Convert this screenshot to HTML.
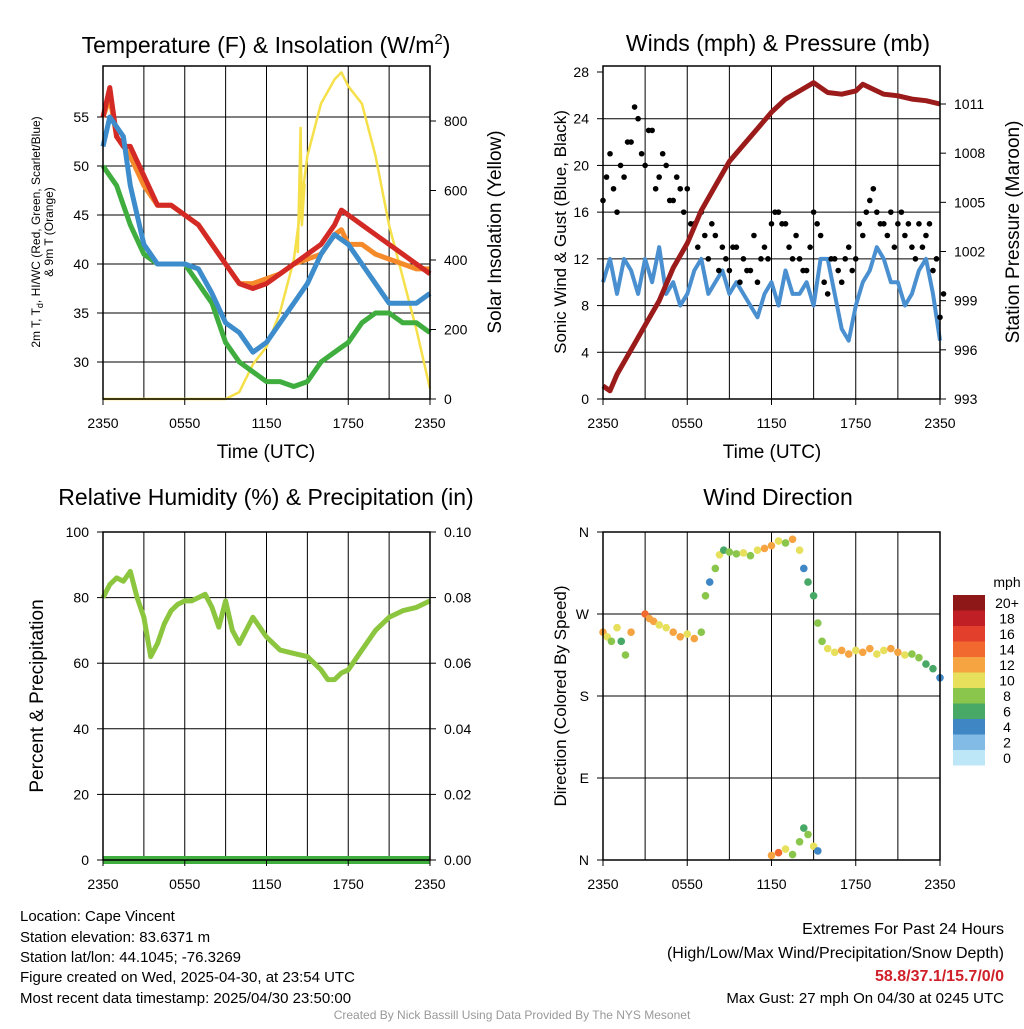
<!DOCTYPE html>
<html><head><meta charset="utf-8"><style>
body{margin:0;background:#fff}
svg text{font-family:"Liberation Sans",sans-serif;fill:#000}
</style></head><body>
<svg id="s" width="1024" height="1024" viewBox="0 0 1024 1024" xmlns="http://www.w3.org/2000/svg">
<g id="static">
<text x="266" y="53" font-size="23" text-anchor="middle">Temperature (F) &amp; Insolation (W/m<tspan dy="-9" font-size="15">2</tspan><tspan dy="9">)</tspan></text>
<text x="778" y="51" font-size="23" text-anchor="middle">Winds (mph) &amp; Pressure (mb)</text>
<text x="266" y="505" font-size="23" text-anchor="middle">Relative Humidity (%) &amp; Precipitation (in)</text>
<text x="778" y="505" font-size="23" text-anchor="middle">Wind Direction</text>
<text x="266" y="458" font-size="19" text-anchor="middle">Time (UTC)</text>
<text x="772" y="458" font-size="19" text-anchor="middle">Time (UTC)</text>
<g transform="translate(40,232) rotate(-90)"><text x="0" y="0" font-size="12" text-anchor="middle">2m T, T<tspan dy="3" font-size="9">d</tspan><tspan dy="-3">, HI/WC (Red, Green, Scarlet/Blue)</tspan></text><text x="0" y="13" font-size="12" text-anchor="middle">&amp; 9m T (Orange)</text></g>
<text transform="translate(501,232) rotate(-90)" font-size="19" text-anchor="middle">Solar Insolation (Yellow)</text>
<text transform="translate(566,232) rotate(-90)" font-size="17" text-anchor="middle">Sonic Wind &amp; Gust (Blue, Black)</text>
<text transform="translate(1019,232) rotate(-90)" font-size="19" text-anchor="middle">Station Pressure (Maroon)</text>
<text transform="translate(43,696) rotate(-90)" font-size="19" text-anchor="middle">Percent &amp; Precipitation</text>
<text transform="translate(566,696) rotate(-90)" font-size="17" text-anchor="middle">Direction (Colored By Speed)</text>
<g font-size="15">
<text x="20" y="921">Location: Cape Vincent</text>
<text x="20" y="942">Station elevation: 83.6371 m</text>
<text x="20" y="962">Station lat/lon: 44.1045; -76.3269</text>
<text x="20" y="982">Figure created on Wed, 2025-04-30, at 23:54 UTC</text>
<text x="20" y="1003">Most recent data timestamp: 2025/04/30 23:50:00</text>
</g>
<g font-size="16" text-anchor="end">
<text x="1004" y="934">Extremes For Past 24 Hours</text>
<text x="1004" y="958">(High/Low/Max Wind/Precipitation/Snow Depth)</text>
<text x="1004" y="981" font-weight="bold" style="fill:#d0202a">58.8/37.1/15.7/0/0</text>
<text x="1004" y="1003" font-size="15">Max Gust: 27 mph On 04/30 at 0245 UTC</text>
</g>
<text x="512" y="1019" font-size="12" text-anchor="middle" style="fill:#999">Created By Nick Bassill Using Data Provided By The NYS Mesonet</text>
<text x="1007" y="587" font-size="14" text-anchor="middle">mph</text>
</g>
<g id="dyn"></g>
</svg>
<script>
// ---------- data ----------
const hours = [0,0.5,1,1.5,2,3,4,5,6,7,8,9,10,11,12,13,14,15,16,17,17.5,18,19,20,21,22,23,24];
const tempRed     = [55,58,53,52,52,49,46,46,45,44,42,40,38,37.5,38,39,40,41,42,44,45.5,45,44,43,42,41,40,39];
const temp9mOrange= [55,57,53,52,51,48,46,46,45,44,42,40,38,38,38.5,39,40,40.5,41,43,43.5,42,42,41,40.5,40,39.5,39.5];
const tempBlue    = [52,55,54,53,48,42,40,40,40,39.5,37,34,33,31,32,34,36,38,41,43,42.5,42,40,38,36,36,36,37];
const dewGreen    = [50,49,48,46,44,41,40,40,40,38,36,32,30,29,28,28,27.5,28,30,31,31.5,32,34,35,35,34,34,33];
const insolation  = [0,0,0,0,0,0,0,0,0,0,0,0,20,100,150,250,400,700,850,920,940,900,850,700,500,350,200,30];
const insolSpikeHours=[14.3,14.5,14.6,14.8];
const insolSpike     =[420,780,500,620];
const windHours = [0,0.5,1,1.5,2,2.5,3,3.5,4,4.5,5,5.5,6,6.5,7,7.5,8,8.5,9,9.5,10,10.5,11,11.5,12,12.5,13,13.5,14,14.5,15,15.5,16,16.5,17,17.5,18,18.5,19,19.5,20,20.5,21,21.5,22,22.5,23,23.5,24];
const sonicWind = [10,12,9,12,11,9,12,10,13,9,10,8,9,11,12,9,10,11,9,10,9,8,7,9,10,8,11,9,9,10,8,12,12,9,6,5,8,10,11,13,12,10,10,8,9,11,12,9,5];
const gust      = [17,21,16,19,22,24,20,23,19,20,17,18,18,15,16,12,14,13,11,13,12,11,10,13,15,16,15,12,12,11,16,14,9,12,10,13,12,14,17,16,15,16,15,14,13,15,14,11,7];
const gust2     = [19,18,20,22,25,21,23,18,21,17,19,16,15,13,14,15,11,12,13,10,11,14,12,12,16,15,13,14,11,13,15,10,12,11,12,11,15,16,18,15,14,13,16,15,12,13,15,12,9];
const pressHours = [0,0.5,1,2,3,4,5,6,7,8,9,10,11,12,13,14,15,16,17,18,18.5,19,20,21,22,23,24];
const pressure   = [993.8,993.5,994.5,996,997.5,999,1001,1002.5,1004.5,1006,1007.5,1008.5,1009.5,1010.5,1011.3,1011.8,1012.3,1011.7,1011.6,1011.8,1012.2,1012,1011.6,1011.5,1011.3,1011.2,1011];
const rhHours = [0,0.5,1,1.5,2,2.5,3,3.5,4,4.5,5,5.5,6,6.5,7,7.5,8,8.5,9,9.5,10,10.5,11,12,13,14,15,16,16.5,17,17.5,18,19,20,21,22,23,24];
const rh      = [80,84,86,85,88,80,74,62,66,72,76,78,79,79,80,81,77,71,79,70,66,70,74,68,64,63,62,58,55,55,57,58,64,70,74,76,77,79];
const dirHours = [0,0.3,0.6,1,1.3,1.6,2,3,3.3,3.6,4,4.5,5,5.5,6,6.5,7,7.3,7.6,8,8.3,8.6,9,9.5,10,10.5,11,11.5,12,12.5,13,13.5,14,14.3,14.6,15,15.3,15.6,16,16.5,17,17.5,18,18.5,19,19.5,20,20.5,21,21.5,22,22.5,23,23.5,24, 12,12.5,13,13.5,14,14.3,14.6,15,15.3];
const direction = [250,245,240,255,240,225,250,270,265,262,258,255,250,245,248,243,250,290,305,320,335,340,338,336,337,334,340,342,345,350,348,352,340,320,305,290,260,240,232,228,230,226,230,228,232,226,230,232,228,225,226,222,215,210,200, 5,8,12,6,20,35,28,15,10];
const dirSpeed  = [11,9,7,10,6,8,12,13,12,11,10,9,12,11,10,11,8,7,4,8,9,6,7,8,10,7,9,11,12,10,8,11,10,4,6,5,7,8,9,10,11,12,10,11,12,10,9,11,12,10,8,7,6,5,4, 12,13,10,8,7,6,8,10,3];
const cbLabels = ["20+","18","16","14","12","10","8","6","4","2","0"];
const cbColors = ["#8e1717","#c11f26","#e2402d","#f26930","#f6a441","#e7e05c","#8ac64b","#48a865","#3f86c4","#82bbe6","#bde6f7"];

// ---------- helpers ----------
const NS="http://www.w3.org/2000/svg";
const dyn=document.getElementById('dyn');
function mk(tag,attrs,parent){const e=document.createElementNS(NS,tag);for(const k in attrs)e.setAttribute(k,attrs[k]);(parent||dyn).appendChild(e);return e;}
function lin(d0,d1,r0,r1){return v=>r0+(v-d0)*(r1-r0)/(d1-d0);}
function panel(name){
  const g=mk('g',{});
  
  
  return g;
}
function grid(g,x0,y0,x1,y1,xs,ys){
  for(let h=3;h<24;h+=3){const l=mk('line',{x1:xs(h),x2:xs(h),y1:y0,y2:y1,stroke:'#000','stroke-width':1},g);}
  ys.forEach(y=>{const l=mk('line',{x1:x0,x2:x1,y1:y,y2:y,stroke:'#000','stroke-width':1},g);});
}
function frame(g,x0,y0,x1,y1,xs){
  const r=mk('rect',{x:x0,y:y0,width:x1-x0,height:y1-y0,fill:'none',stroke:'#000','stroke-width':1.5},g);
  
  
  ["2350","0550","1150","1750","2350"].forEach((t,i)=>{
    const tx=mk('text',{x:xs(i*6),y:y1+29,'font-size':14,'text-anchor':'middle'},g);tx.textContent=t;
    
    
    mk('line',{x1:xs(i*6),x2:xs(i*6),y1:y1,y2:y1+6,stroke:'#000'},g);
  });
}
function yTicks(g,x,vals,sc,fmt,side){
  vals.forEach(v=>{
    const y=sc(v);
    mk('line',{x1:x,x2:x+(side==='l'?-6:6),y1:y,y2:y,stroke:'#000'},g);
    const t=mk('text',{x:x+(side==='l'?-14:14),y:y+5,'font-size':14,'text-anchor':side==='l'?'end':'start'},g);
    t.textContent=fmt(v);
    
    
  });
}
function line(g,xa,ya,xs,ys,color,w,name){
  const d=xa.map((h,i)=>(i?'L':'M')+xs(h).toFixed(1)+','+ys(ya[i]).toFixed(1)).join('');
  const p=mk('path',{d:d,fill:'none',stroke:color,'stroke-width':w,'stroke-linejoin':'round'},g);
  
  
}

// ---------- panel 1: temperature ----------
{const X0=103,Y0=66,X1=430,Y1=399;
 const xs=lin(0,24,X0,X1), yT=lin(30,55,362,117), yS=lin(0,800,399,121);
 const g=panel('temperature-panel');
 grid(g,X0,Y0,X1,Y1,xs,[30,35,40,45,50,55].map(yT));
 line(g,hours,insolation,xs,yS,'#f5e04a',2.5,'insolation-line');
 line(g,insolSpikeHours,insolSpike,xs,yS,'#f5e04a',2.5,'insolation-spike');
 line(g,hours,dewGreen,xs,yT,'#3fae3f',5,'dewpoint-line');
 line(g,hours,temp9mOrange,xs,yT,'#f58a2a',5,'temp-9m-line');
 line(g,hours,tempRed,xs,yT,'#d42a26',5,'temp-2m-line');
 line(g,hours,tempBlue,xs,yT,'#3d8ccc',5,'heat-index-windchill-line');
 frame(g,X0,Y0,X1,Y1,xs);
 yTicks(g,X0,[30,35,40,45,50,55],yT,v=>v,'l');
 yTicks(g,X1,[0,200,400,600,800],yS,v=>v,'r');}

// ---------- panel 2: winds ----------
{const X0=603,Y0=66,X1=940,Y1=399;
 const xs=lin(0,24,X0,X1), yW=lin(0,28,399,72), yP=lin(993,1011,399,104);
 const g=panel('winds-panel');
 grid(g,X0,Y0,X1,Y1,xs,[4,8,12,16,20,24].map(yW));
 line(g,windHours,sonicWind,xs,yW,'#4a90d0',4,'sonic-wind-line');
 gust.forEach((v,i)=>{const c=mk('circle',{cx:xs(windHours[i]),cy:yW(v),r:2.8,fill:'#000'},g);
   
   });
 gust2.forEach((v,i)=>{const c=mk('circle',{cx:xs(windHours[i]+0.25),cy:yW(v),r:2.8,fill:'#000'},g);
   
   });
 line(g,pressHours,pressure,xs,yP,'#9b1b1b',5,'pressure-line');
 frame(g,X0,Y0,X1,Y1,xs);
 yTicks(g,X0,[0,4,8,12,16,20,24,28],yW,v=>v,'l');
 yTicks(g,X1,[993,996,999,1002,1005,1008,1011],yP,v=>v,'r');}

// ---------- panel 3: humidity ----------
{const X0=103,Y0=532,X1=430,Y1=860;
 const xs=lin(0,24,X0,X1), yR=lin(0,100,860,532), yPr=lin(0,0.1,860,532);
 const g=panel('humidity-panel');
 grid(g,X0,Y0,X1,Y1,xs,[20,40,60,80].map(yR));
 line(g,rhHours,rh,xs,yR,'#8cc63f',5,'relative-humidity-line');
 const p=mk('rect',{x:X0,y:yPr(0)-4,width:X1-X0,height:8,fill:'#3fae3f'},g);
 
 
 frame(g,X0,Y0,X1,Y1,xs);
 yTicks(g,X0,[0,20,40,60,80,100],yR,v=>v,'l');
 yTicks(g,X1,[0,0.02,0.04,0.06,0.08,0.1],yPr,v=>v.toFixed(2),'r');}

// ---------- panel 4: wind direction ----------
{const X0=603,Y0=532,X1=940,Y1=860;
 const xs=lin(0,24,X0,X1), yD=lin(0,360,860,532);
 const g=panel('wind-direction-panel');
 grid(g,X0,Y0,X1,Y1,xs,[90,180,270].map(yD));
 function col(s){const i=Math.min(10,Math.max(0,10-Math.round(s/2)));return cbColors[i];}
 direction.forEach((d,i)=>{const c=mk('circle',{cx:xs(dirHours[i]),cy:yD(d),r:3.8,fill:col(dirSpeed[i])},g);
   
   });
 frame(g,X0,Y0,X1,Y1,xs);
 yTicks(g,X0,[0,90,180,270,360],yD,v=>['N','E','S','W','N'][v/90],'l');
 cbLabels.forEach((lb,i)=>{
   const r=mk('rect',{x:953,y:595+i*15.5,width:32,height:15.5,fill:cbColors[i]});
   
   
   const t=mk('text',{x:1007,y:608+i*15.5,'font-size':14,'text-anchor':'middle'});
   t.textContent=lb;
   
   
 });}
</script>
</body></html>
